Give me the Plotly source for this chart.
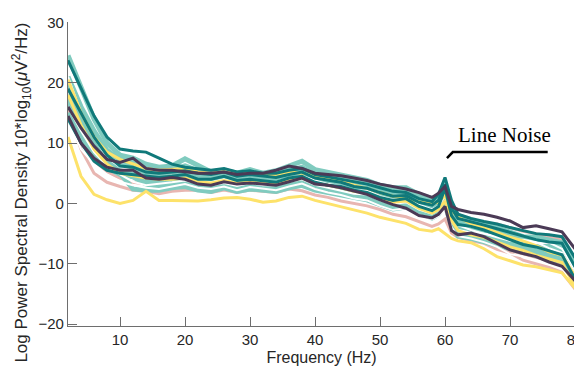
import plotly.graph_objects as go

# Frequencies (Hz)
freqs = [2, 4, 6, 8, 10, 12, 14, 16, 18, 20,
         22, 24, 26, 28, 30, 32, 34, 36, 38, 40,
         42, 44, 46, 48, 50, 52, 54, 56, 58,
         59, 60, 61,
         62, 64, 66, 68, 70, 72, 74, 76, 78, 80]

# Log PSD per channel (dB)
lt1 = [24.5, 19.5, 14, 10, 8, 7.5, 6.5, 6.0, 6.2, 7.4,
       6.2, 5.2, 5.5, 5.0, 5.6, 5.0, 5.4, 6.2, 7.0, 5.6,
       5.2, 4.8, 4.2, 3.8, 3.0, 2.6, 2.6, 1.5, 0.8,
       1.2, 2.8, -0.5,
       -2.0, -2.8, -3.5, -4.0, -4.8, -5.5, -5.6, -6.0, -6.5, -9.5]
lt2 = [21, 16, 12, 8.8, 7.2, 7.0, 5.8, 5.2, 5.6, 6.2,
       5.4, 4.8, 5.0, 4.4, 5.0, 4.6, 4.4, 5.4, 6.0, 4.8,
       4.5, 4.0, 3.5, 3.4, 2.4, 1.8, 2.2, 1.0, 0.2,
       0.8, 2.2, -1.0,
       -2.8, -3.6, -4.0, -4.8, -5.2, -6.0, -6.6, -6.4, -7.0, -10]
lt3 = [18, 14, 10.5, 7.8, 6.2, 6.4, 5.0, 4.4, 4.8, 5.4,
       4.6, 4.0, 4.5, 3.8, 4.4, 4.0, 4.0, 4.8, 5.2, 4.2,
       3.6, 3.4, 2.6, 2.6, 1.6, 1.0, 1.4, 0.2, -0.4,
       0.2, 1.8, -1.6,
       -3.4, -4.2, -4.6, -5.4, -5.8, -6.6, -7.0, -7.4, -7.8, -11]
lt4 = [16.5, 12.5, 9.0, 6.8, 5.4, 5.2, 4.0, 3.6, 4.0, 4.6,
       3.8, 3.3, 3.8, 3.2, 3.8, 3.3, 3.4, 4.2, 4.6, 3.6,
       3.0, 2.8, 2.0, 2.0, 1.0, 0.4, 0.8, -0.4, -1.0,
       -0.4, 1.2, -2.2,
       -4.0, -4.8, -5.2, -6.0, -6.4, -7.2, -7.6, -8.2, -8.6, -12]
lt5 = [15, 11, 8, 6, 4.8, 4.4, 3.2, 2.8, 3.2, 3.6,
       2.8, 2.6, 3.0, 2.4, 3.0, 2.6, 2.6, 3.2, 3.8, 2.8,
       2.2, 1.8, 1.2, 1.0, 0.2, -0.6, -0.2, -1.2, -2.0,
       -1.4, 0.4, -3.2,
       -5.0, -5.6, -6.0, -6.8, -7.2, -7.8, -8.2, -8.8, -9.2, -12.8]
lt6 = [20, 15.5, 11, 7.5, 5.0, 2.4, 2.2, 2.2, 2.6, 2.8,
       2.2, 2.0, 2.6, 2.0, 2.4, 2.2, 2.0, 2.6, 3.0, 2.2,
       1.8, 1.4, 0.8, 0.6, -0.2, -0.9, -0.6, -1.6, -2.4,
       -1.8, -0.2, -3.6,
       -5.4, -5.8, -6.4, -7.0, -7.6, -8.2, -8.6, -9.2, -9.6, -13.2]
lt7 = [17.5, 13, 9.5, 7.2, 6.0, 5.8, 4.8, 4.4, 4.8, 5.0,
       4.2, 3.8, 4.4, 3.6, 4.2, 3.8, 3.8, 4.4, 5.0, 4.0,
       3.5, 3.0, 2.4, 2.3, 1.4, 0.9, 1.1, 0.0, -0.8,
       -0.2, 1.5, -1.8,
       -3.8, -4.2, -4.4, -5.4, -5.2, -5.6, -6.2, -6.6, -7.2, -10.8]
lt8 = [19.5, 14.5, 10, 7.0, 5.6, 5.4, 3.8, 3.4, 3.8, 4.4,
       3.5, 3.0, 3.6, 3.0, 3.6, 3.1, 3.0, 3.8, 4.4, 3.4,
       2.8, 2.4, 1.8, 1.7, 0.7, 0.1, 0.4, -0.8, -1.5,
       -0.9, 0.9, -2.7,
       -4.5, -5.0, -5.5, -6.2, -6.6, -7.4, -7.8, -8.5, -8.9, -12.4]
w1 = [16, 12, 8.5, 6.2, 4.8, 3.6, 3.0, 3.2, 3.5, 3.8,
      3.3, 3.0, 3.4, 2.9, 3.4, 3.0, 3.0, 3.6, 4.0, 3.1,
      2.6, 2.2, 1.6, 1.5, 0.5, -0.1, 0.2, -1.0, -1.7,
      -1.1, 0.5, -2.9,
      -4.4, -4.8, -5.0, -5.6, -6.2, -6.2, -6.6, -6.5, -7.5, -11]
w2 = [14, 9, 6.5, 4.8, 3.6, 3.0, 2.6, 2.4, 2.8, 3.2,
      2.6, 2.4, 2.8, 2.2, 2.7, 2.4, 2.2, 2.8, 3.3, 2.4,
      1.8, 1.4, 0.8, 0.5, -0.4, -1.1, -0.8, -1.9, -2.6,
      -2.1, -1.0, -3.9,
      -5.4, -5.8, -6.4, -7.2, -8.4, -8.8, -9.4, -10.0, -10.6, -14]
w3 = [21, 15, 11, 7.6, 6.0, 5.4, 4.4, 4.0, 4.3, 4.8,
      4.0, 3.5, 4.0, 3.4, 3.9, 3.5, 3.6, 4.2, 4.6, 3.8,
      3.2, 2.9, 2.2, 2.1, 1.2, 0.6, 0.9, -0.2, -1.0,
      -0.4, 1.2, -2.0,
      -3.6, -4.4, -5.0, -5.4, -6.0, -6.0, -6.4, -7.4, -8.2, -11.6]
pk1 = [15, 9, 5, 3.5, 2.8, 2.2, 2.0, 1.6, 2.0, 2.2,
       2.2, 1.8, 2.2, 1.8, 2.2, 2.0, 1.8, 2.4, 2.1, 1.4,
       1.0, 0.4, 0.0, -0.4, -1.0, -1.8, -2.2, -3.0, -3.8,
       -3.4, -2.6, -4.9,
       -5.6, -6.2, -6.6, -7.6, -8.2, -9.4, -10.0, -10.6, -11.4, -14.2]
pk2 = [19, 14.5, 10.5, 8.5, 7.8, 7.0, 6.5, 6.0, 5.5, 5.8,
       5.6, 5.2, 5.6, 5.0, 5.4, 5.0, 5.2, 5.6, 6.0, 5.2,
       4.8, 4.4, 3.8, 3.6, 2.8, 2.2, 2.4, 1.2, 0.5,
       1.0, 2.5, -0.8,
       -2.4, -3.2, -3.6, -3.4, -4.0, -4.6, -5.0, -5.6, -6.0, -9.2]
pk3 = [15.5, 10.5, 7, 5.2, 4.2, 3.5, 3.2, 3.0, 3.2, 3.5,
       3.0, 2.8, 3.2, 2.8, 3.2, 3.0, 2.8, 3.3, 3.8, 2.8,
       2.4, 2.0, 1.4, 1.2, 0.2, -0.6, -0.4, -1.4, -2.2,
       -1.6, 0.0, -3.5,
       -5.0, -5.6, -6.2, -7.0, -7.8, -8.4, -9.0, -9.4, -10.2, -13.6]
y1 = [11, 4.5, 1.5, 0.6, 0, 0.5, 2, 0.5, 0.5, 0.5,
      0.4, 0.6, 0.9, 1.0, 0.7, 0.2, 0.4, 1.0, 1.2, 0.5,
      0, -0.6, -1.1, -1.6, -2.3, -2.8, -3.3, -4.3, -4.6,
      -4.2, -5.0, -5.8,
      -6.2, -6.5, -7.5, -8.8, -9.5, -10.2, -10.5, -11, -11.5, -14]
y2 = [20.5, 15, 11, 8.5, 7.3, 6.5, 5.8, 5.5, 5.6, 5.8,
      5.2, 5.0, 5.3, 4.8, 5.2, 4.8, 4.8, 5.2, 5.0, 4.6,
      4.2, 3.8, 3.0, 2.5, 1.8, 1.2, 0.8, 0.3, 0.0,
      0.2, 1.3, -1.2,
      -2.2, -3.4, -4.0, -4.8, -5.6, -6.2, -7.0, -8.0, -8.6, -12]
y3 = [18, 13, 9, 6.5, 5.0, 4.6, 4.2, 4.0, 4.0, 4.2,
      3.6, 3.4, 3.8, 3.4, 3.6, 3.4, 3.2, 3.8, 4.2, 3.4,
      3.0, 2.6, 2.0, 1.7, 0.9, 0.2, 0.4, -0.8, -1.6,
      -1.0, 0.4, -2.8,
      -4.5, -5.2, -5.6, -6.4, -7.2, -7.8, -8.6, -9.2, -9.8, -13.8]
dt1 = [23.7, 19, 14.5, 11, 9, 8.7, 8.5, 7.5, 6.5, 6.0,
       5.8, 5.5, 5.8, 5.2, 5.4, 5.0, 5.0, 5.5, 5.8, 4.8,
       4.4, 4.0, 3.5, 3.2, 2.6, 2.0, 1.8, 0.8, 0.3,
       1.5, 4.3, 0.5,
       -1.8, -2.5, -3.0, -3.4, -4.0, -4.5, -5.0, -5.2, -5.5, -9]
dt2 = [14, 10, 7, 5.5, 5, 4.8, 4.5, 4.3, 4.5, 4.8,
       4.0, 4.0, 4.5, 3.8, 4.0, 3.8, 3.5, 4.2, 4.5, 3.5,
       3.0, 2.8, 2.2, 1.8, 1.0, 0.5, 0.8, -0.5, -1.2,
       -0.5, 2.5, -2.0,
       -3.5, -3.8, -4.4, -5.2, -6.0, -6.8, -7.2, -7.8, -8.5, -12.5]
dt3 = [19, 15, 11, 8, 6.2, 6.0, 5.2, 5.0, 5.2, 5.4,
       5.0, 4.8, 5.2, 4.5, 4.8, 4.5, 4.3, 4.8, 5.2, 4.2,
       3.8, 3.5, 2.8, 2.5, 1.8, 1.2, 1.3, 0.2, -0.3,
       0.5, 3.2, -0.8,
       -2.5, -3.0, -3.6, -4.2, -4.8, -5.5, -6.0, -6.4, -6.6, -10.5]
p1 = [16, 12.5, 9.5, 7.3, 6.8, 7.5, 5.8, 5.5, 5.5, 5.2,
      5.0, 5.0, 5.2, 4.8, 5.0, 5.0, 5.5, 6.2, 5.8, 5.0,
      4.8, 4.6, 4.2, 3.8, 3.2, 2.8, 2.4, 1.8, 1.0,
      1.7, 2.8, -0.5,
      -1.0, -1.5, -1.8, -2.3, -2.9, -4.0, -3.7, -4.2, -4.7, -7.5]
p2 = [14.5, 10, 7.5, 6, 5.5, 5.5, 4.2, 4.0, 4.3, 4.0,
      3.2, 3.0, 3.6, 3.2, 3.4, 3.2, 3.0, 3.6, 4.2, 3.2,
      3.0, 2.6, 2.0, 1.5, 0.6, -0.2, -0.8, -2.0, -2.4,
      -1.8, -0.5, -4.5,
      -5.2, -4.9, -5.5, -6.6, -7.7, -8.3, -8.8, -9.7, -10.4, -12.8]

LIGHT_TEAL = "#80cbbf"
WHITE = "#ffffff"
PINK = "#e8b6b1"
YELLOW = "#fde26a"
DARK_TEAL = "#10797a"
PURPLE = "#4b3a56"

series = [
    (pk1, PINK, 3), (pk3, PINK, 3), (pk2, PINK, 3),
    (lt6, LIGHT_TEAL, 5), (lt5, LIGHT_TEAL, 5), (lt8, LIGHT_TEAL, 5), (lt4, LIGHT_TEAL, 5),
    (lt7, LIGHT_TEAL, 5), (lt3, LIGHT_TEAL, 5), (lt2, LIGHT_TEAL, 5), (lt1, LIGHT_TEAL, 5),
    (w1, WHITE, 2), (w2, WHITE, 2), (w3, WHITE, 2),
    (y3, YELLOW, 3), (y2, YELLOW, 3), (y1, YELLOW, 3),
    (dt2, DARK_TEAL, 3), (dt3, DARK_TEAL, 3), (dt1, DARK_TEAL, 3),
    (p2, PURPLE, 3), (p1, PURPLE, 3),
]

for vals, _, _ in series:
    assert len(vals) == len(freqs), len(vals)

fig = go.Figure()
for vals, color, width in series:
    fig.add_trace(go.Scatter(x=freqs, y=vals, mode="lines",
                             line=dict(color=color, width=width),
                             showlegend=False, hoverinfo="skip"))

axis_common = dict(showgrid=False, zeroline=False, showline=True, linecolor="#6e6e6e",
                   linewidth=1.2, ticks="inside", ticklen=9, tickcolor="#6e6e6e",
                   tickwidth=1.2, automargin=False, ticklabeloverflow="allow",
                   tickfont=dict(family="Liberation Sans, Arial", size=15, color="#262626"))

# page body adds an 8px offset; figure sized to fit the 582x374 window
fig.update_layout(
    width=574, height=366,
    margin=dict(l=60, r=7, t=14, b=48),
    paper_bgcolor="white", plot_bgcolor="white",
    xaxis=dict(range=[2, 80], tickvals=[10, 20, 30, 40, 50, 60, 70, 80],
               title=dict(text="Frequency (Hz)", standoff=4,
                          font=dict(family="Liberation Sans, Arial", size=16, color="#262626")),
               **axis_common),
    yaxis=dict(range=[-20.3, 30.05], tickvals=[-20, -10, 0, 10, 20, 30], **axis_common),
    annotations=[
        dict(text="Log Power Spectral Density 10*log<sub>10</sub>(<i>μ</i>V<sup>2</sup>/Hz)",
             xref="paper", yref="paper", x=-0.092, y=0.44, textangle=-90,
             xanchor="center", yanchor="middle", showarrow=False,
             font=dict(family="Liberation Sans, Arial", size=17, color="#262626")),
        dict(text="Line Noise", xref="x", yref="y", x=69.1, y=11.4,
             xanchor="center", yanchor="middle", showarrow=False,
             font=dict(family="Liberation Serif, Times New Roman", size=21, color="black")),
    ],
    shapes=[
        dict(type="path", xref="x", yref="y",
             path="M 60.3,7.5 L 61.2,8.5 L 75.8,8.5",
             line=dict(color="black", width=2.5)),
    ],
)

fig.write_html("out.html")
